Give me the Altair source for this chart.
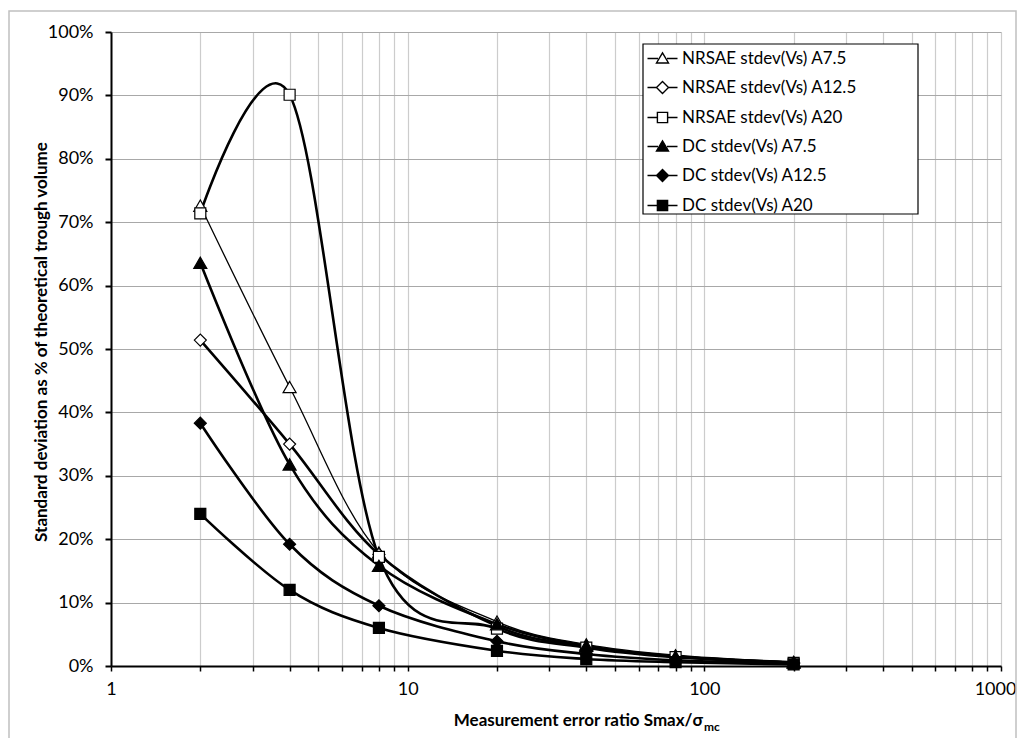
import altair as alt
import pandas as pd

# ---------------- data ----------------
x_vals = [2, 4, 8, 20, 40, 80, 200]
series_names = [
    "NRSAE stdev(Vs) A7.5",
    "NRSAE stdev(Vs) A12.5",
    "NRSAE stdev(Vs) A20",
    "DC stdev(Vs) A7.5",
    "DC stdev(Vs) A12.5",
    "DC stdev(Vs) A20",
]
nrsae_a75 = [72.6, 44.0, 17.9, 7.0, 3.4, 1.7, 0.6]
nrsae_a125 = [51.4, 35.0, 17.6, 6.3, 3.1, 1.5, 0.5]
nrsae_a20 = [71.4, 90.1, 17.2, 5.9, 2.9, 1.4, 0.5]
dc_a75 = [63.6, 31.8, 15.8, 6.6, 3.2, 1.5, 0.6]
dc_a125 = [38.3, 19.2, 9.5, 3.9, 1.9, 0.9, 0.4]
dc_a20 = [24.0, 12.0, 6.0, 2.4, 1.1, 0.6, 0.25]
x_ticks = [1, 2, 3, 4, 5, 6, 7, 8, 9, 10, 20, 30, 40, 50, 60, 70, 80, 90,
           100, 200, 300, 400, 500, 600, 700, 800, 900, 1000]
y_ticks = [0, 10, 20, 30, 40, 50, 60, 70, 80, 90, 100]

all_vals = [nrsae_a75, nrsae_a125, nrsae_a20, dc_a75, dc_a125, dc_a20]
rows = []
for name, vals in zip(series_names, all_vals):
    for xv, yv in zip(x_vals, vals):
        rows.append({"series": name, "x": xv, "y": yv})
df = pd.DataFrame(rows)

W, H = 890, 634
FONT = "Lato"

x_enc = alt.X(
    "x:Q",
    scale=alt.Scale(type="log", domain=[1, 1000], nice=False),
    axis=alt.Axis(
        values=x_ticks,
        labelExpr="(datum.value==1||datum.value==10||datum.value==100||datum.value==1000) ? format(datum.value,'d') : ''",
        grid=True, gridColor="#cccccc", gridWidth=1.2,
        tickColor="black", tickSize=5, tickWidth=1.5,
        domainColor="black", domainWidth=2,
        labelFont=FONT, labelFontSize=18, labelColor="black",
        labelPadding=9, labelOverlap=False, labelFlush=False, title=None,
        labelOffset={"condition": {"test": "datum.value == 1000", "value": -6}, "value": 0},
    ),
)
y_enc = alt.Y(
    "y:Q",
    scale=alt.Scale(domain=[0, 100], nice=False),
    axis=alt.Axis(
        values=y_ticks, labelExpr="datum.value + '%'",
        grid=True, gridColor="#a8a8a8", gridWidth=1.2,
        tickColor="black", tickSize=6, tickWidth=2,
        domainColor="black", domainWidth=2,
        labelFont=FONT, labelFontSize=18, labelColor="black",
        labelPadding=12, title=None,
    ),
)

width_scale = alt.Scale(type="ordinal", domain=series_names,
                        range=[1.3, 2.6, 2.6, 2.6, 2.6, 2.6])
fill_scale = alt.Scale(domain=series_names,
                       range=["white", "white", "white", "black", "black", "black"])
stroke_scale = alt.Scale(domain=series_names, range=["black"] * 6)
shape_scale = alt.Scale(domain=series_names,
                        range=["triangle-up", "diamond", "square",
                               "triangle-up", "diamond", "square"])
size_scale = alt.Scale(type="ordinal", domain=series_names,
                       range=[170, 144, 121, 170, 144, 121])

tri = "M-2.5,0H-0.75M0.75,0H2.5M0,-0.95L1,0.75L-1,0.75Z"
dia = "M-2.5,0H-1M1,0H2.5M0,-1L1,0L0,1L-1,0Z"
sq = "M-2.5,0H-0.85M0.85,0H2.5M-0.85,-0.85H0.85V0.85H-0.85Z"
legend_shape_scale = alt.Scale(domain=series_names, range=[tri, dia, sq, tri, dia, sq])

one = pd.DataFrame({"a": [0]})

border = alt.Chart(one).mark_rect(
    fill="white", fillOpacity=0, stroke="#c0c0c0", strokeWidth=1.5
).encode(
    x=alt.value(-102), x2=alt.value(W + 15), y=alt.value(-21), y2=alt.value(H + 90)
)

legend_box = alt.Chart(one).mark_rect(
    fill="white", stroke="black", strokeWidth=1.2
).encode(
    x=alt.value(532), x2=alt.value(807), y=alt.value(12), y2=alt.value(182)
)

lines = alt.Chart(df).mark_line(interpolate="cardinal", color="black").encode(
    x=x_enc, y=y_enc, detail="series:N",
    strokeWidth=alt.StrokeWidth("series:N", scale=width_scale, legend=None),
)

points = alt.Chart(df).mark_point(stroke="black", strokeWidth=1.2, opacity=1).encode(
    x=x_enc, y=y_enc,
    shape=alt.Shape("series:N", scale=shape_scale, legend=None),
    fill=alt.Fill("series:N", scale=fill_scale, legend=None),
    size=alt.Size("series:N", scale=size_scale, legend=None),
)

leg = alt.Legend(
    orient="none", legendX=543, legendY=18, title=None,
    padding=0, symbolSize=144, symbolStrokeColor="black", symbolStrokeWidth=1.4,
    labelFont=FONT, labelFontSize=17, labelColor="black", labelLimit=0,
    labelOffset=11, rowPadding=11,
)
legend_layer = alt.Chart(df).transform_filter("false").mark_point(
    strokeWidth=1.4, opacity=1
).encode(
    x=x_enc, y=y_enc,
    shape=alt.Shape("series:N", scale=legend_shape_scale, legend=leg),
    fill=alt.Fill("series:N", scale=fill_scale, legend=leg),
    stroke=alt.Stroke("series:N", scale=stroke_scale, legend=leg),
)

ytitle = alt.Chart(one).mark_text(
    text="Standard deviation as % of theoretical trough volume",
    font=FONT, fontSize=17, fontWeight="bold", angle=270,
    align="center", baseline="middle", color="black",
).encode(x=alt.value(-69), y=alt.value(310))

xtitle_main = alt.Chart(one).mark_text(
    text="Measurement error ratio Smax/\u03c3",
    font=FONT, fontSize=17, fontWeight="bold",
    align="right", baseline="middle", color="black",
).encode(x=alt.value(592), y=alt.value(689))

xtitle_sub = alt.Chart(one).mark_text(
    text="mc", font=FONT, fontSize=12, fontWeight="bold",
    align="left", baseline="middle", color="black",
).encode(x=alt.value(593), y=alt.value(695))

chart = alt.layer(
    border, legend_box, lines, points, legend_layer, ytitle, xtitle_main, xtitle_sub
).resolve_scale(
    shape="independent", fill="independent", size="independent",
    strokeWidth="independent", stroke="independent"
).properties(
    width=W, height=H,
    autosize=alt.AutoSizeParams(type="none"),
    padding={"left": 103, "top": 24, "right": 16, "bottom": 72},
    background="white",
).configure_view(stroke=None)

chart.save("out.html", embed_options={"renderer": "svg", "actions": False})
